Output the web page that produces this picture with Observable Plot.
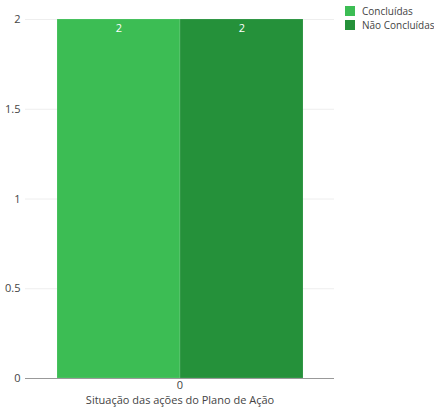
<!DOCTYPE html>
<html>
<head>
<meta charset="utf-8">
<script src="https://cdn.jsdelivr.net/npm/d3@7"></script>
<script src="https://cdn.jsdelivr.net/npm/@observablehq/plot@0.6"></script>
<style>
  body { margin: 0; background: #fff; font-family: "Open Sans", sans-serif; }
  #wrap { position: relative; width: 434px; height: 408px; }
  #legend { position: absolute; left: 345px; top: 4px; font-size: 10px; color: #444; line-height: 14px; white-space: nowrap; }
  #legend .item { display: flex; align-items: center; gap: 7px; }
  #legend .sw { width: 10px; height: 10px; display: inline-block; }
</style>
</head>
<body>
<div id="wrap">
  <div id="chart"></div>
  <div id="legend"></div>
</div>
<script>
const groups = [0];
const series = ["Concluídas", "Não Concluídas"];
const values = [2, 2];
const colors = ["#3cbd54", "#25913a"];
const yTicks = [0, 0.5, 1, 1.5, 2];
const xTitle = "Situação das ações do Plano de Ação";

const data = series.map((s, i) => ({group: groups[0], serie: s, value: values[i]}));

const chart = Plot.plot({
  width: 434,
  height: 408,
  marginLeft: 25,
  marginRight: 100,
  marginTop: 19,
  marginBottom: 30,
  style: {fontFamily: "Open Sans, sans-serif", fontSize: "11px", color: "#444"},
  fx: {domain: groups, padding: 0, axis: "bottom", label: xTitle, labelAnchor: "center", labelOffset: 25, tickSize: 0, tickPadding: 3},
  x: {domain: series, paddingInner: 0, paddingOuter: 0.251, axis: null},
  y: {domain: [0, 2], ticks: yTicks, tickFormat: d => String(d), tickSize: 0, tickPadding: 5, label: null},
  color: {domain: series, range: colors},
  marks: [
    Plot.ruleY(yTicks.filter(d => d > 0), {stroke: "#eee", strokeOpacity: 1}),
    Plot.barY(data, {fx: "group", x: "serie", y: "value", fill: "serie", stroke: "#fff", strokeOpacity: 0.25, strokeWidth: 0.5}),
    Plot.text(data, {fx: "group", x: "serie", y: "value", text: d => String(d.value), dy: 9, fill: "white", fontSize: 11}),
    Plot.ruleY([0], {stroke: "#999"})
  ]
});
document.getElementById("chart").appendChild(chart);

const legend = document.getElementById("legend");
series.forEach((s, i) => {
  const item = document.createElement("div");
  item.className = "item";
  const sw = document.createElement("span");
  sw.className = "sw";
  sw.style.background = colors[i];
  const t = document.createElement("span");
  t.textContent = s;
  item.appendChild(sw);
  item.appendChild(t);
  legend.appendChild(item);
});
</script>
</body>
</html>
